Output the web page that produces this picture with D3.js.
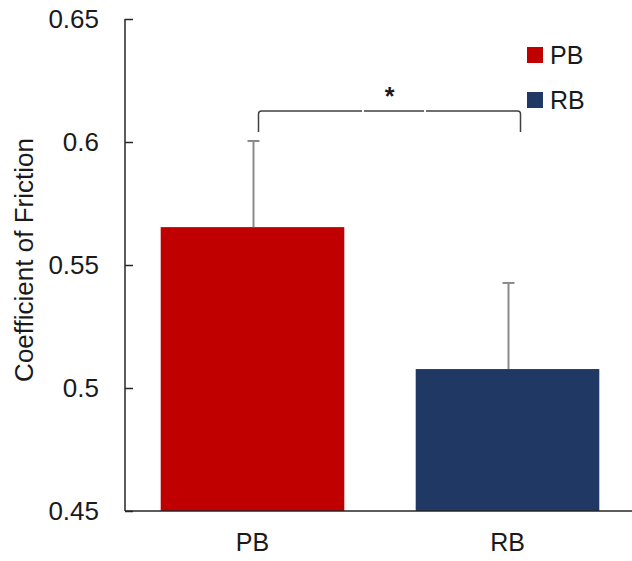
<!DOCTYPE html>
<html lang="en">
<head>
  <meta charset="UTF-8">
  <title>Coefficient of Friction</title>
  <script src="https://d3js.org/d3.v7.min.js"></script>
  <style>
    body { margin: 0; background: #fff; }
    text { font-family: "Liberation Sans", Arial, sans-serif; fill: #1a1a1a; }
  </style>
</head>
<body>
<script>
// data
var categories = ["PB", "RB"];
var means = [0.5654, 0.5077];
var errors = [0.035, 0.035];
var colors = ["#c00000", "#203864"];
var yTicks = [0.45, 0.5, 0.55, 0.6, 0.65];
var yTickLabels = ["0.45", "0.5", "0.55", "0.6", "0.65"];
var sigLabel = "*";

var width = 632,
    height = 561;

var svg = d3.select("body").append("svg")
    .attr("width", width)
    .attr("height", height);

var x = d3.scaleBand()
    .domain(categories)
    .range([125, 635])
    .paddingInner(0.28)
    .paddingOuter(0.14);

var y = d3.scaleLinear()
    .domain([0.45, 0.65])
    .range([511, 19]);

// bars
svg.selectAll("rect.bar").data(categories).enter().append("rect")
    .attr("class", "bar")
    .attr("x", function(d) { return x(d); })
    .attr("width", x.bandwidth())
    .attr("y", function(d, i) { return y(means[i]); })
    .attr("height", function(d, i) { return y(0.45) - y(means[i]); })
    .attr("fill", function(d, i) { return colors[i]; });

// error bars (top only)
var err = svg.append("g").attr("stroke", "#8a8a8a").attr("stroke-width", 2);
categories.forEach(function(c, i) {
  var cx = x(c) + x.bandwidth() / 2 + 1;
  err.append("line")
      .attr("x1", cx).attr("x2", cx)
      .attr("y1", y(means[i])).attr("y2", y(means[i] + errors[i]));
  err.append("line")
      .attr("x1", cx - 6).attr("x2", cx + 6)
      .attr("y1", y(means[i] + errors[i])).attr("y2", y(means[i] + errors[i]));
});

// y axis, ticks pointing inward
var yAxis = svg.append("g")
    .attr("transform", "translate(125,0)")
    .call(d3.axisRight(y).tickValues(yTicks).tickSize(8).tickFormat(""));
yAxis.select(".domain").attr("stroke", "#262626").attr("stroke-width", 1.5)
    .attr("d", "M0," + y(0.65) + "H0V" + y(0.45));
yAxis.selectAll(".tick line").attr("stroke", "#262626").attr("stroke-width", 1.5);

svg.selectAll("text.ytick").data(yTicks).enter().append("text")
    .attr("class", "ytick")
    .attr("x", 99)
    .attr("y", function(d) { return y(d); })
    .attr("dy", "0.35em")
    .attr("text-anchor", "end")
    .style("font-size", "26px")
    .text(function(d, i) { return yTickLabels[i]; });

// x axis
var xAxis = svg.append("g")
    .attr("transform", "translate(0," + y(0.45) + ")")
    .call(d3.axisBottom(x).tickSize(0).tickPadding(22));
xAxis.select(".domain").attr("stroke", "#262626").attr("stroke-width", 1.5)
    .attr("d", "M125,0H640");
xAxis.selectAll(".tick text")
    .style("font-size", "25px")
    .style("font-family", "Liberation Sans, Arial, sans-serif")
    .attr("fill", "#1a1a1a");

// y axis title
svg.append("text")
    .attr("transform", "translate(33,260) rotate(-90)")
    .attr("text-anchor", "middle")
    .style("font-size", "26px")
    .text("Coefficient of Friction");

// significance bracket
var bx1 = x("PB") + x.bandwidth() / 2 + 6,
    bx2 = x("RB") + x.bandwidth() / 2 + 13,
    by = 111, byEnd = 132;
svg.append("path")
    .attr("d", "M" + bx1 + "," + byEnd + "V" + (by + 3) + "Q" + bx1 + "," + by + " " + (bx1 + 3) + "," + by +
               "H" + (bx2 - 3) + "Q" + bx2 + "," + by + " " + bx2 + "," + (by + 3) + "V" + byEnd)
    .attr("fill", "none")
    .attr("stroke", "#404040")
    .attr("stroke-width", 1.5);
// small gaps in the bracket line
[363, 425].forEach(function(gx) {
  svg.append("rect").attr("x", gx - 1).attr("y", by - 2).attr("width", 2).attr("height", 4).attr("fill", "#fff");
});
svg.append("text")
    .attr("x", (bx1 + bx2) / 2)
    .attr("y", 105)
    .attr("text-anchor", "middle")
    .style("font-size", "25px")
    .style("font-weight", "bold")
    .text(sigLabel);

// legend
var legend = svg.selectAll("g.legend").data(categories).enter().append("g")
    .attr("class", "legend")
    .attr("transform", function(d, i) { return "translate(527," + (47 + i * 45) + ")"; });
legend.append("rect")
    .attr("width", 16).attr("height", 16)
    .attr("fill", function(d, i) { return colors[i]; });
legend.append("text")
    .attr("x", 23).attr("y", 17)
    .style("font-size", "25px")
    .text(function(d) { return d; });
</script>
</body>
</html>
